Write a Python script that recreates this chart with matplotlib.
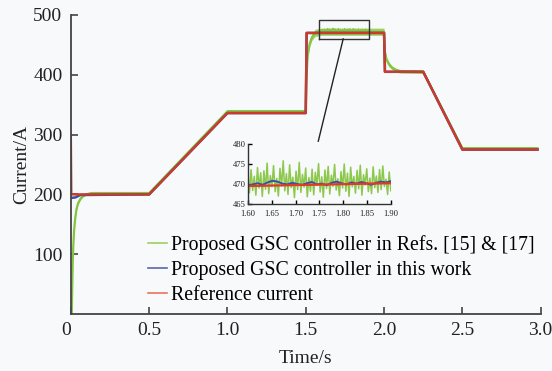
import numpy as np
import matplotlib.pyplot as plt

plt.rcParams['font.family'] = ['Liberation Serif', 'DejaVu Serif']

# reference current (breakpoints of the piecewise profile)
ref_t = [0.0, 0.003, 0.5, 1.0, 1.5, 1.505, 2.0, 2.005, 2.25, 2.5, 2.98]
ref_i = [300, 200, 200, 336, 336, 470, 470, 405, 405, 275, 275]

# controller in this work
prop_t = [0.0, 0.03, 0.06, 0.5, 1.0, 1.5, 1.506, 2.0, 2.006, 2.25, 2.5, 2.98]
prop_i = [194, 195, 199, 200, 336, 336, 470, 470, 405, 405, 275, 275]

# controller of Refs. [15] & [17]: centre path and band half-width
gsc_t = [0.006, 0.009, 0.012, 0.016, 0.021, 0.028, 0.036, 0.046, 0.06, 0.075,
         0.095, 0.13, 0.5, 1.0, 1.5, 1.503, 1.512, 1.525, 1.54, 1.56, 1.6,
         2.0, 2.004, 2.015, 2.03, 2.05, 2.075, 2.1, 2.25, 2.5, 2.98]
gsc_i = [0, 45, 85, 115, 140, 160, 175, 185, 192, 197,
         200, 202, 202, 339, 339, 385, 432, 452, 463, 470, 472,
         472, 440, 426, 418, 412, 408, 406, 405, 277, 277]
gsc_w = [2, 2, 2, 2, 2, 2, 2, 2, 2, 2,
         2, 3, 3, 3, 3, 4, 4, 5, 5, 6, 6,
         6, 4, 4, 4, 3, 3, 3, 3, 3, 3]

# zoomed window 1.60-1.90 s
zoom_t0, zoom_t1 = 1.60, 1.90
zoom_gsc = [472.5, 467.8, 473.6, 468.4, 471.9, 467.2, 474.1, 469.0, 472.8, 466.9,
            473.3, 468.7, 475.2, 467.6, 472.1, 469.3, 474.6, 468.1, 471.4, 467.0,
            473.9, 469.5, 475.8, 468.3, 472.6, 467.4, 474.8, 469.1, 471.7, 466.6,
            473.2, 468.6, 475.4, 467.9, 472.4, 469.2, 474.0, 466.8, 471.6, 468.2,
            473.7, 467.3, 472.9, 469.6, 475.1, 468.0, 471.8, 466.7, 473.5, 468.9,
            474.4, 467.5, 472.2, 469.4, 474.9, 468.5, 471.3, 467.1, 473.1, 469.0,
            475.0, 468.2, 472.7, 466.9, 474.2, 469.3, 471.9, 467.7, 473.4, 468.8,
            474.7, 467.2, 472.3, 469.7, 473.8, 468.1, 471.5, 467.6, 474.3, 469.1,
            472.0, 467.9, 473.6, 468.6, 474.5, 469.4, 471.2, 467.4, 473.0, 468.3]
zoom_prop = [469.7, 469.9, 470.2, 469.8, 470.4, 470.8, 470.6, 470.1, 469.9, 470.3,
             470.0, 469.8, 470.2, 470.5, 469.9, 470.1, 469.7, 470.3, 470.6, 470.2,
             469.9, 470.4, 470.1, 470.5, 470.2, 469.8, 470.3, 470.6, 470.4, 470.7]
zoom_ref = [469.5, 470.2]

fig = plt.figure(figsize=(5.52, 3.71), dpi=100)
bg = '#f7f9fb'
fig.patch.set_facecolor(bg)
ax = fig.add_axes([0.1283, 0.1536, 0.8512, 0.806])
ax.set_facecolor(bg)

green = '#84c441'
blue = '#3d4fa3'
red = '#cc3b2a'

lo = np.array(gsc_i) - np.array(gsc_w)
hi = np.array(gsc_i) + np.array(gsc_w)
ax.fill_between(gsc_t, lo, hi, color='#9fd160', lw=0)
ax.plot(gsc_t, gsc_i, color=green, lw=1.6)
# noisy part of the 470 A plateau
zt = np.linspace(zoom_t0, zoom_t1, len(zoom_gsc))
ax.plot(zt, np.array(zoom_gsc) + 2, color=green, lw=0.9)
ax.plot(prop_t, prop_i, color=blue, lw=1.8)
ax.plot(ref_t, ref_i, color=red, lw=1.7)

# legend
ax.plot([], [], color='#9fcf62', lw=1.2, label='Proposed GSC controller in Refs. [15] & [17]')
ax.plot([], [], color='#5566b0', lw=1.2, label='Proposed GSC controller in this work')
ax.plot([], [], color='#e8735e', lw=1.2, label='Reference current')
h, l = ax.get_legend_handles_labels()
ax.legend(h[-3:], l[-3:], loc='lower left', bbox_to_anchor=(0.135, -0.015), frameon=False,
          fontsize=14.3, handlelength=0.95, handletextpad=0.2, labelspacing=0.3,
          borderaxespad=0.3)

ax.set_xlim(0, 3.0)
ax.set_ylim(0, 500)
ax.set_xticks([0, 0.5, 1.0, 1.5, 2.0, 2.5, 3.0])
ax.set_xticklabels(['0', '0.5', '1.0', '1.5', '2.0', '2.5', '3.0'])
ax.set_yticks([100, 200, 300, 400, 500])
for s in ['top', 'right']:
    ax.spines[s].set_visible(False)
for s in ['left', 'bottom']:
    ax.spines[s].set_color('#444444')
    ax.spines[s].set_linewidth(1.3)
ax.tick_params(direction='in', length=5, width=1.2, color='#444444',
               labelsize=14, labelcolor='#222222', pad=6)
ax.get_xticklabels()[0].set_horizontalalignment('right')
ax.set_xlabel('Time/s', fontsize=14, color='#222222', labelpad=8)
ax.set_ylabel('Current/A', fontsize=14, color='#222222', labelpad=2)

# zoom box and connector
ax.plot([1.586, 1.904, 1.904, 1.586, 1.586], [460, 460, 492, 492, 460],
        color='#333333', lw=1.0)
ax.plot([1.739, 1.58], [460, 289], color='#222222', lw=1.0)

# inset
axi = fig.add_axes([0.449, 0.450, 0.259, 0.162])
axi.set_facecolor(bg)
axi.plot(zt, zoom_gsc, color='#8cc84b', lw=1.1)
axi.plot(np.linspace(zoom_t0, zoom_t1, len(zoom_prop)), zoom_prop, color=blue, lw=1.4)
axi.plot([zoom_t0, zoom_t1], zoom_ref, color='#e03a2a', lw=1.6)
axi.set_xlim(zoom_t0, zoom_t1)
axi.set_ylim(465, 480)
axi.set_xticks(np.arange(1.60, 1.901, 0.05))
axi.set_xticklabels(['1.60', '1.65', '1.70', '1.75', '1.80', '1.85', '1.90'])
axi.set_yticks([465, 470, 475, 480])
for s in ['top', 'right']:
    axi.spines[s].set_visible(False)
for s in ['left', 'bottom']:
    axi.spines[s].set_color('#333333')
    axi.spines[s].set_linewidth(1.0)
axi.tick_params(direction='in', length=3, width=1.0, labelsize=6.2,
                labelcolor='#222222')
axi.tick_params(axis='x', pad=4)
axi.tick_params(axis='y', pad=1.5)

fig.savefig('out.png', dpi=100, facecolor=bg)
